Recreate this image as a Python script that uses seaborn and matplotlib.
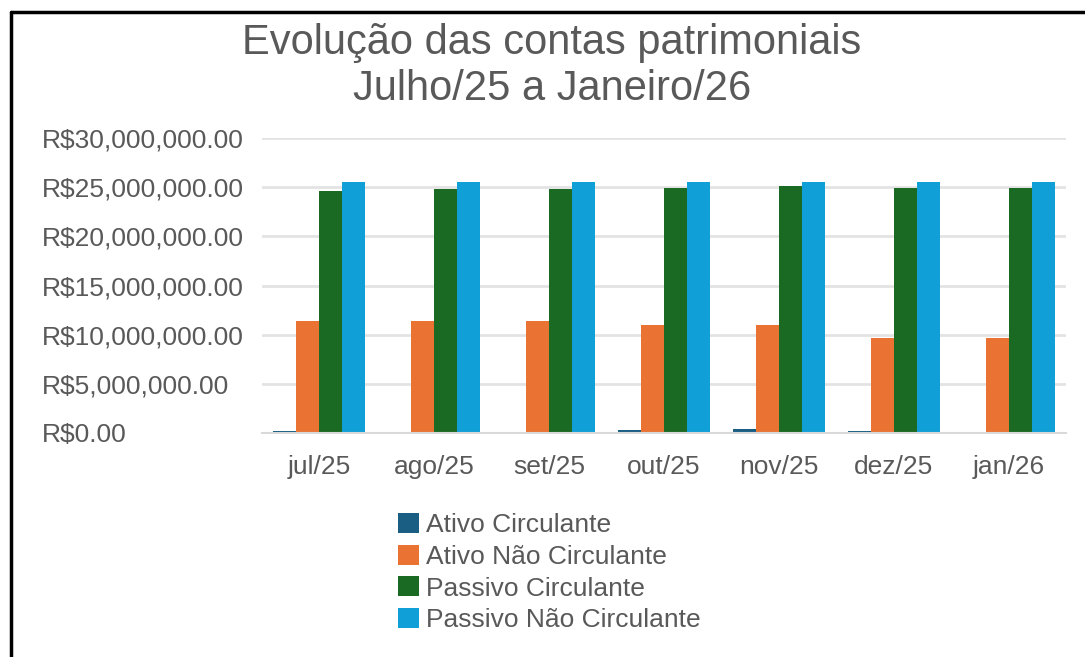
import matplotlib
matplotlib.use("Agg")
import matplotlib.pyplot as plt
import seaborn as sns
import pandas as pd
import numpy as np
from matplotlib.lines import Line2D
from matplotlib.ticker import FuncFormatter, MultipleLocator, FixedLocator

# ---- data ----
months = ["jul/25", "ago/25", "set/25", "out/25", "nov/25", "dez/25", "jan/26"]
series = ["Ativo Circulante", "Ativo Não Circulante", "Passivo Circulante", "Passivo Não Circulante"]
ativo_circulante = [0.20e6, 0.15e6, 0.15e6, 0.30e6, 0.40e6, 0.20e6, 0.15e6]
ativo_nao_circulante = [11.4e6, 11.4e6, 11.4e6, 11.0e6, 11.0e6, 9.7e6, 9.7e6]
passivo_circulante = [24.6e6, 24.8e6, 24.8e6, 24.9e6, 25.1e6, 24.9e6, 24.9e6]
passivo_nao_circulante = [25.5e6, 25.5e6, 25.5e6, 25.5e6, 25.5e6, 25.5e6, 25.5e6]
colors = ["#1a5e84", "#ea7233", "#1b6a23", "#119fd7"]

title_text = "Evolução das contas patrimoniais\nJulho/25 a Janeiro/26"

values = [ativo_circulante, ativo_nao_circulante, passivo_circulante, passivo_nao_circulante]
df = pd.DataFrame({
    "mes": [m for _ in series for m in months],
    "serie": [s for s in series for _ in months],
    "valor": [v for vals in values for v in vals],
})

sns.set_style("white")
plt.rcParams["font.family"] = ["Liberation Sans", "DejaVu Sans"]

W, H = 1085, 657
fig = plt.figure(figsize=(W / 100, H / 100), dpi=100)
ax = fig.add_axes([262 / W, 1 - 433 / H, (1066 - 262) / W, (433 - 138) / H])

sns.barplot(data=df, x="mes", y="valor", hue="serie", order=months, hue_order=series,
            palette=dict(zip(series, colors)), saturation=1, width=0.8, ax=ax,
            edgecolor="none", linewidth=0, legend=True)

ax.set_ylim(0, 30e6)
ax.set_xlim(-0.5, len(months) - 0.5)
ax.yaxis.set_major_locator(MultipleLocator(5e6))

def fmt(v, pos):
    if v == 0:
        return "R$0.00"
    return "R${:,.2f}".format(v)

ax.yaxis.set_major_formatter(FuncFormatter(fmt))
ax.set_xlabel("")
ax.set_ylabel("")
ax.grid(axis="y", color="#e3e3e3", linewidth=2)
ax.set_axisbelow(True)
for s in ["top", "right", "left"]:
    ax.spines[s].set_visible(False)
ax.spines["bottom"].set_color("#d9d9d9")
ax.spines["bottom"].set_linewidth(1.5)

ax.tick_params(axis="y", length=0, pad=158.4, labelsize=19, labelcolor="#595959")
for lab in ax.get_yticklabels():
    lab.set_horizontalalignment("left")
ax.tick_params(axis="x", which="major", length=0, pad=16, labelsize=19, labelcolor="#595959")
ax.xaxis.set_minor_locator(FixedLocator(np.arange(-0.5, len(months), 1.0)))
ax.tick_params(axis="x", which="minor", length=6, width=1.5, color="#d9d9d9", direction="out")

leg = ax.get_legend()
handles = leg.legend_handles
leg.remove()
fig.legend(handles, series, loc="upper left", bbox_to_anchor=(398 / W, 1 - 513 / H),
           frameon=False, fontsize=19, labelcolor="#595959", handlelength=0.8,
           handleheight=0.8, handletextpad=0.25, labelspacing=0.28, borderpad=0,
           borderaxespad=0)

fig.text(552 / W, 1 - 66 / H, title_text, ha="center", va="center", fontsize=30,
         color="#595959", linespacing=1.22)

# outer frame (top and left edges visible)
fig.add_artist(Line2D([11 / W, 1], [1 - 12 / H, 1 - 12 / H], color="black", linewidth=2.5,
                      transform=fig.transFigure))
fig.add_artist(Line2D([11 / W, 11 / W], [0, 1 - 12 / H], color="black", linewidth=2.5,
                      transform=fig.transFigure))

fig.savefig("out.png", dpi=100, facecolor="white")
